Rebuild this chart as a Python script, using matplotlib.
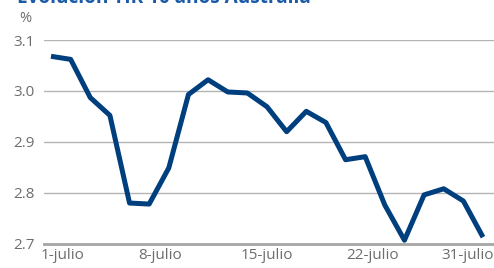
import numpy as np
import matplotlib
matplotlib.use("Agg")
import matplotlib.pyplot as plt

# TIR 10 años Australia, %
yields = [3.068, 3.062, 2.987, 2.952, 2.780, 2.778, 2.849, 2.993, 3.022, 2.998,
          2.996, 2.969, 2.920, 2.960, 2.938, 2.865, 2.871, 2.776, 2.707, 2.796,
          2.808, 2.784, 2.713]
tick_labels = ["1-julio", "8-julio", "15-julio", "22-julio", "31-julio"]
tick_pos = [0.59, 5.55, 11.0, 16.4, 21.2]
y_ticks = [2.7, 2.8, 2.9, 3.0, 3.1]

plt.rcParams['font.family'] = ['Open Sans', 'DejaVu Sans']
gray_txt = '#6d6d6d'

fig = plt.figure(figsize=(4.94, 2.68), dpi=100)
ax = fig.add_axes([44/494, 1 - 243.8/268, 1 - 44/494, (243.8 - 40)/268])

x = np.arange(len(yields))
ax.plot(x, yields, color='#003f7d', lw=3.6, solid_joinstyle='round', solid_capstyle='butt', zorder=3)

ax.set_ylim(2.7, 3.1)
ax.set_xlim(-0.356, 22.56)
ax.set_yticks(y_ticks)
ax.set_yticklabels([f"{v:.1f}" for v in y_ticks])
ax.set_xticks(tick_pos)
ax.set_xticklabels(tick_labels)
ax.tick_params(axis='both', length=0, labelsize=11, colors=gray_txt)
ax.tick_params(axis='y', pad=7)
ax.tick_params(axis='x', pad=3)

for v in y_ticks[1:]:
    ax.axhline(v, color='#b4b4b4', lw=1.0, zorder=1)
for s in ['top', 'right', 'left']:
    ax.spines[s].set_visible(False)
ax.spines['bottom'].set_color('#a6a6a6')
ax.spines['bottom'].set_linewidth(2.0)
ax.spines['bottom'].set_zorder(2)

fig.text(25/494, 1 - 19/268, '%', ha='center', va='center', fontsize=10.5, color=gray_txt)
fig.text(17/494, 1 - 3/268, 'Evolución TIR 10 años Australia', ha='left', va='baseline',
         fontsize=13.7, fontweight='bold', color='#1b5aa6')

fig.savefig('out.png', dpi=100)
